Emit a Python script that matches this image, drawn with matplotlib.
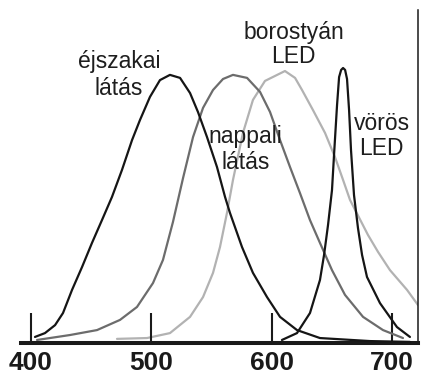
import matplotlib
matplotlib.use("Agg")
import matplotlib.pyplot as plt

# Wavelength axis (nm)
tick_values = [400, 500, 600, 700]
tick_labels = ["400", "500", "600", "700"]

# Scotopic (night) sensitivity
scot_wl = [403.3, 411.6, 420.0, 426.6, 434.1, 442.4, 450.7, 459.0, 467.3, 475.6,
           484.0, 490.6, 498.9, 507.2, 515.5, 523.9, 532.2, 538.8, 546.3, 554.6,
           561.3, 565.4, 575.4, 584.5, 596.2, 607.0, 621.1, 640.2, 681.8, 715.0]
scot_val = [0.022, 0.036, 0.065, 0.109, 0.193, 0.276, 0.364, 0.447, 0.531, 0.629,
            0.738, 0.811, 0.895, 0.956, 0.975, 0.964, 0.909, 0.840, 0.749, 0.640,
            0.531, 0.473, 0.349, 0.255, 0.167, 0.095, 0.047, 0.018, 0.007, 0.004]

# Photopic (day) sensitivity
phot_wl = [405.0, 432.4, 454.9, 474.0, 488.1, 501.4, 509.7, 518.0, 526.4, 534.7,
           543.0, 551.3, 559.6, 567.9, 579.6, 590.4, 598.7, 607.0, 615.3, 623.6,
           631.9, 640.2, 650.2, 661.0, 676.0, 692.6, 709.2]
phot_val = [0.011, 0.029, 0.047, 0.084, 0.131, 0.218, 0.302, 0.440, 0.600, 0.749,
            0.855, 0.920, 0.960, 0.975, 0.964, 0.913, 0.840, 0.738, 0.640, 0.545,
            0.447, 0.364, 0.265, 0.175, 0.095, 0.047, 0.018]

# Amber LED spectrum
amber_wl = [471.5, 496.4, 515.5, 532.2, 543.0, 551.3, 557.1, 562.9, 567.9, 576.2,
            584.5, 594.5, 602.8, 611.1, 619.5, 625.3, 634.4, 644.4, 652.7, 659.4,
            665.2, 680.1, 688.5, 698.4, 712.6, 721.7]
amber_val = [0.015, 0.018, 0.036, 0.095, 0.167, 0.255, 0.349, 0.473, 0.593, 0.764,
             0.884, 0.953, 0.971, 0.989, 0.964, 0.920, 0.847, 0.764, 0.676, 0.593,
             0.520, 0.393, 0.331, 0.265, 0.193, 0.138]

# Red LED spectrum
red_wl = [608.6, 621.1, 631.9, 640.2, 643.6, 646.9, 650.2, 651.9, 654.4, 656.1,
          657.8, 659.4, 661.1, 662.7, 664.4, 666.0, 668.5, 671.8, 675.2, 679.3,
          690.1, 704.2, 715.0]
red_val = [0.011, 0.036, 0.109, 0.229, 0.320, 0.429, 0.556, 0.684, 0.865, 0.967,
           0.993, 1.000, 0.993, 0.960, 0.847, 0.702, 0.538, 0.418, 0.320, 0.240,
           0.145, 0.058, 0.022]

W, H, DPI = 421, 375, 100
fig = plt.figure(figsize=(W / DPI, H / DPI), dpi=DPI)
fig.patch.set_facecolor("white")

# axes box in pixels: x 21..418, baseline 343, top 10
ax = fig.add_axes([21 / W, (H - 343) / H, (418 - 21) / W, (343 - 10) / H])
px_per_nm = 1.203
x0 = 400 - (31 - 21) / px_per_nm
x1 = 400 + (418 - 31) / px_per_nm
ax.set_xlim(x0, x1)
ax.set_ylim(0, (343 - 10) / 275)

def px2data(px, py):
    return 400 + (px - 31) / px_per_nm, (343 - py) / 275

lw = 1.6
style = dict(lw=lw, solid_joinstyle="round", solid_capstyle="round")
ax.plot(scot_wl, scot_val, color="#151515", zorder=3, **style)
ax.plot(phot_wl, phot_val, color="#6c6c6c", zorder=2, **style)
ax.plot(amber_wl, amber_val, color="#b2b2b2", zorder=1, **style)
ax.plot(red_wl, red_val, color="#151515", zorder=3, **style)

for s in ("left", "top"):
    ax.spines[s].set_visible(False)
ax.spines["bottom"].set_linewidth(2.9)
ax.spines["bottom"].set_color("#1a1a1a")
ax.spines["right"].set_linewidth(1.1)
ax.spines["right"].set_color("#1a1a1a")

ax.set_yticks([])
ax.set_xticks(tick_values)
ax.set_xticklabels(tick_labels, fontfamily="Liberation Sans", fontweight="bold",
                   fontsize=19, color="#1a1a1a")
ax.tick_params(axis="x", direction="in", length=21.6, width=1.5, color="#1a1a1a", pad=5.5)

font = dict(fontfamily="Liberation Sans", fontsize=16.5, color="#1e1e1e",
            ha="center", va="baseline")
labels = [
    ("éjszakai", 119, 68), ("látás", 119, 95),
    ("borostyán", 294, 39), ("LED", 293, 63),
    ("nappali", 245, 143), ("látás", 246, 169),
    ("vörös", 382, 130), ("LED", 381, 155),
]
for txt, px, py in labels:
    x, y = px2data(px, py)
    ax.text(x, y, txt, **font)

fig.savefig("out.png", dpi=DPI, facecolor="white")
